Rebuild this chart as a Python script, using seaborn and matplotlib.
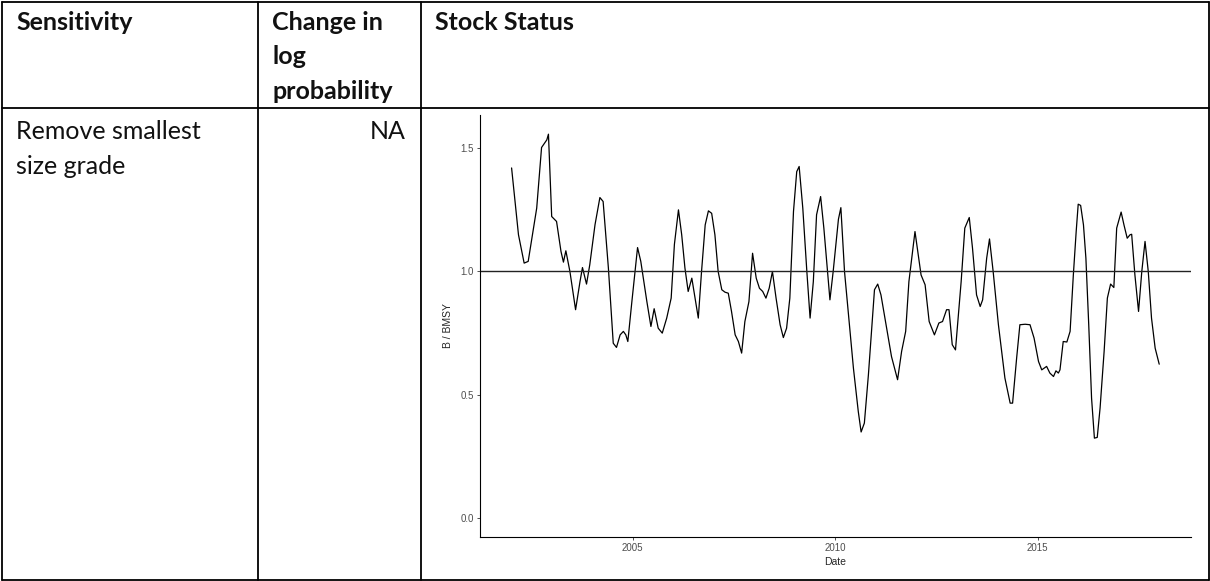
import matplotlib
matplotlib.use("Agg")
import matplotlib.pyplot as plt
from matplotlib.lines import Line2D
import seaborn as sns
import pandas as pd

# table text
header = ["Sensitivity", ["Change in", "log", "probability"], "Stock Status"]
row_label = ["Remove smallest", "size grade"]
row_change = "NA"

# B/BMSY series (decimal year, ratio)
date = [2002.01, 2002.18, 2002.32, 2002.42, 2002.63, 2002.75, 2002.88, 2002.92,
        2003.00, 2003.12, 2003.23, 2003.29, 2003.35, 2003.45, 2003.59, 2003.70,
        2003.76, 2003.86, 2003.94, 2004.07, 2004.19, 2004.27, 2004.40, 2004.52,
        2004.60, 2004.69, 2004.77, 2004.83, 2004.88, 2004.98, 2005.12, 2005.20,
        2005.35, 2005.45, 2005.53, 2005.63, 2005.73, 2005.84, 2005.95, 2006.03,
        2006.13, 2006.21, 2006.29, 2006.37, 2006.46, 2006.54, 2006.62, 2006.70,
        2006.79, 2006.87, 2006.95, 2007.03, 2007.11, 2007.20, 2007.28, 2007.36,
        2007.44, 2007.53, 2007.61, 2007.69, 2007.77, 2007.87, 2007.96, 2008.05,
        2008.13, 2008.21, 2008.29, 2008.37, 2008.45, 2008.54, 2008.64, 2008.72,
        2008.80, 2008.88, 2008.97, 2009.05, 2009.11, 2009.20, 2009.30, 2009.38,
        2009.46, 2009.54, 2009.64, 2009.72, 2009.81, 2009.87, 2009.95, 2010.08,
        2010.14, 2010.23, 2010.32, 2010.45, 2010.57, 2010.64, 2010.72, 2010.82,
        2010.97, 2011.05, 2011.13, 2011.27, 2011.39, 2011.54, 2011.64, 2011.74,
        2011.82, 2011.97, 2012.12, 2012.22, 2012.32, 2012.45, 2012.56, 2012.65,
        2012.75, 2012.81, 2012.89, 2012.97, 2013.11, 2013.20, 2013.31, 2013.39,
        2013.49, 2013.58, 2013.64, 2013.74, 2013.81, 2013.90, 2014.03, 2014.19,
        2014.32, 2014.38, 2014.48, 2014.56, 2014.69, 2014.81, 2014.91, 2015.02,
        2015.10, 2015.22, 2015.30, 2015.39, 2015.45, 2015.51, 2015.55, 2015.63,
        2015.72, 2015.80, 2015.88, 2015.95, 2016.00, 2016.06, 2016.13, 2016.19,
        2016.26, 2016.33, 2016.40, 2016.47, 2016.54, 2016.64, 2016.72, 2016.80,
        2016.88, 2016.95, 2017.06, 2017.13, 2017.21, 2017.28, 2017.32, 2017.40,
        2017.49, 2017.57, 2017.65, 2017.73, 2017.81, 2017.90, 2018.00]
b_bmsy = [1.420, 1.149, 1.034, 1.041, 1.257, 1.503, 1.534, 1.557,
          1.223, 1.203, 1.081, 1.038, 1.084, 1.000, 0.845, 0.960,
          1.016, 0.949, 1.027, 1.190, 1.300, 1.284, 1.014, 0.709,
          0.692, 0.743, 0.757, 0.743, 0.716, 0.878, 1.097, 1.041,
          0.878, 0.777, 0.849, 0.770, 0.750, 0.811, 0.892, 1.110,
          1.250, 1.149, 1.014, 0.919, 0.973, 0.892, 0.811, 1.000,
          1.189, 1.246, 1.236, 1.149, 1.000, 0.926, 0.916, 0.912,
          0.838, 0.743, 0.716, 0.669, 0.797, 0.878, 1.074, 0.973,
          0.932, 0.919, 0.892, 0.932, 1.000, 0.892, 0.784, 0.732,
          0.770, 0.892, 1.243, 1.405, 1.426, 1.257, 1.000, 0.811,
          0.959, 1.230, 1.304, 1.176, 1.000, 0.885, 1.000, 1.212,
          1.259, 1.000, 0.838, 0.608, 0.432, 0.349, 0.385, 0.581,
          0.926, 0.949, 0.905, 0.770, 0.655, 0.561, 0.676, 0.757,
          0.959, 1.162, 0.986, 0.946, 0.797, 0.743, 0.791, 0.797,
          0.845, 0.845, 0.703, 0.682, 0.959, 1.176, 1.219, 1.095,
          0.905, 0.858, 0.885, 1.054, 1.132, 1.000, 0.784, 0.568,
          0.466, 0.466, 0.649, 0.784, 0.786, 0.784, 0.730, 0.635,
          0.601, 0.615, 0.588, 0.574, 0.597, 0.588, 0.601, 0.716,
          0.714, 0.757, 0.986, 1.162, 1.273, 1.268, 1.189, 1.054,
          0.784, 0.486, 0.324, 0.327, 0.446, 0.676, 0.892, 0.949,
          0.935, 1.176, 1.241, 1.189, 1.135, 1.149, 1.151, 0.986,
          0.838, 1.000, 1.122, 1.000, 0.811, 0.689, 0.624]

df = pd.DataFrame({"Date": date, "B / BMSY": b_bmsy})

sns.set_style("white")
plt.rcParams["font.family"] = ["Lato", "DejaVu Sans"]

W, H = 1210, 581
fig = plt.figure(figsize=(W / 100, H / 100), dpi=100)

def fx(px):
    return px / W

def fy(py):
    return 1 - py / H

# table grid
lw = 1.3
for y0 in [1.5, 108, 579.5]:
    fig.add_artist(Line2D([fx(1.5), fx(1208.5)], [fy(y0), fy(y0)], color="black", lw=lw))
for x0 in [1.5, 258, 421, 1208.5]:
    fig.add_artist(Line2D([fx(x0), fx(x0)], [fy(1.5), fy(579.5)], color="black", lw=lw))

cell_font = 18
line_gap = 34.6
txt = dict(fontsize=cell_font, va="baseline", color="#111111")
fig.text(fx(16), fy(29.5), header[0], fontweight="bold", **txt)
for i, part in enumerate(header[1]):
    fig.text(fx(272), fy(29.5 + i * line_gap), part, fontweight="bold", **txt)
fig.text(fx(435), fy(29.5), header[2], fontweight="bold", **txt)
for i, part in enumerate(row_label):
    fig.text(fx(16), fy(139 + i * line_gap), part, **txt)
fig.text(fx(406), fy(139), row_change, ha="right", **txt)

# stock status plot
ax = fig.add_axes([fx(480), fy(536.7), fx(1191) - fx(480), fy(115) - fy(536.7)])
sns.lineplot(data=df, x="Date", y="B / BMSY", ax=ax, color="black", linewidth=0.9)
ax.axhline(1.0, color="#222222", linewidth=1.0)
ax.set_xlim(2001.23, 2018.785)
ax.set_ylim(-0.0758, 1.6348)
ax.set_xticks([2005, 2010, 2015])
ax.set_yticks([0.0, 0.5, 1.0, 1.5])
ax.set_yticklabels(["0.0", "0.5", "1.0", "1.5"])
sns.despine(ax=ax)
for s in ["left", "bottom"]:
    ax.spines[s].set_color("black")
    ax.spines[s].set_linewidth(0.8)
ax.tick_params(axis="both", length=2.5, width=0.6, color="#333333", pad=2,
               labelsize=7, labelcolor="#4D4D4D", left=True, bottom=True)
for lab in ax.get_xticklabels() + ax.get_yticklabels():
    lab.set_family(["Liberation Sans", "DejaVu Sans"])
ax.set_xlabel("Date", fontsize=7.5, family=["Liberation Sans", "DejaVu Sans"], labelpad=3)
ax.set_ylabel("B / BMSY", fontsize=7.5, family=["Liberation Sans", "DejaVu Sans"], labelpad=5)

fig.savefig("out.png", dpi=100)
